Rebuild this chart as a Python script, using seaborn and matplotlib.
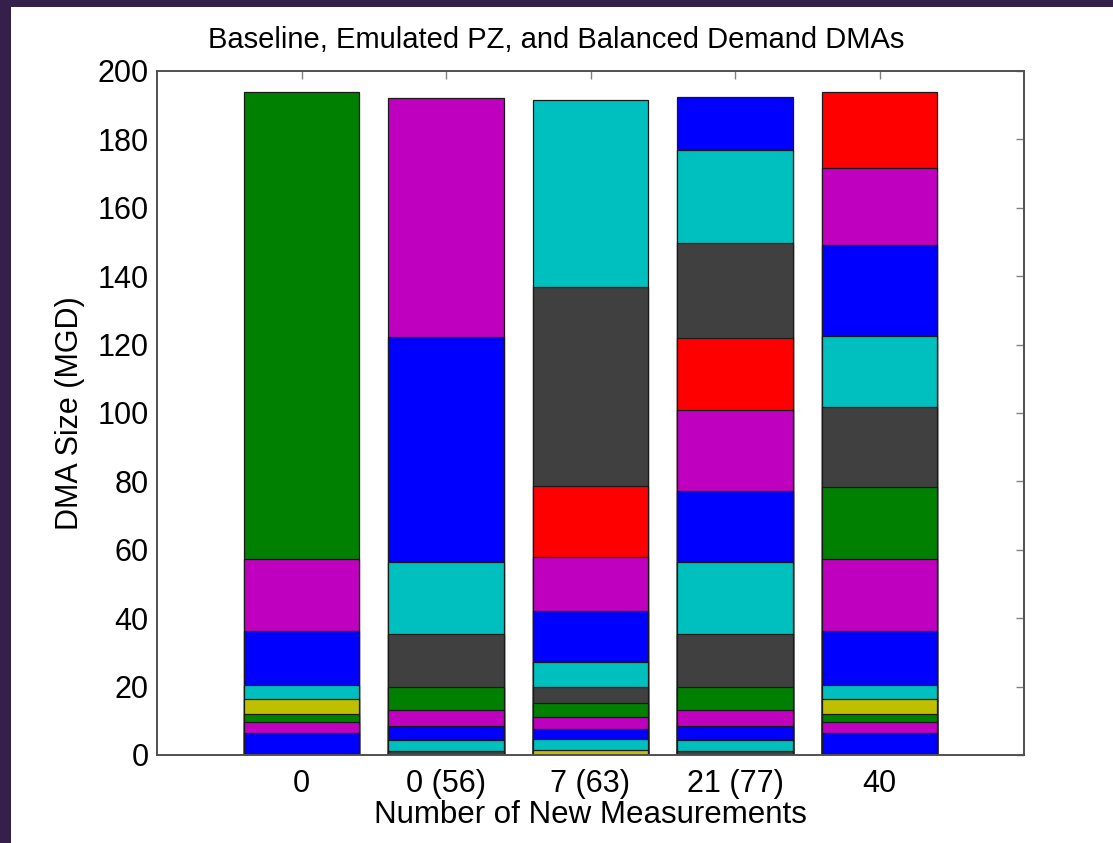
import matplotlib
matplotlib.use("Agg")
import matplotlib.pyplot as plt
import seaborn as sns
import numpy as np
import pandas as pd
from matplotlib.patches import Rectangle

# ---------------- data ----------------
categories = ["0", "0 (56)", "7 (63)", "21 (77)", "40"]

# segment sizes (MGD), bottom to top, and the colour key of each segment
baseline_sizes = [6.5, 3.2, 2.2, 4.5, 4.0, 15.8, 21.0, 136.8]
baseline_keys = ["B", "M", "G", "Y", "C", "B", "M", "G"]

pz56_sizes = [1.3, 3.1, 4.2, 4.7, 6.5, 15.5, 21.1, 65.7, 70.1]
pz56_keys = ["K", "C", "B", "M", "G", "K", "C", "B", "M"]

pz63_sizes = [1.5, 3.1, 3.0, 3.4, 4.1, 4.8, 7.2, 15.0, 15.8, 20.7, 58.1, 54.8]
pz63_keys = ["Y", "C", "B", "M", "G", "K", "C", "B", "M", "R", "K", "C"]

pz77_sizes = [1.3, 3.1, 4.2, 4.7, 6.5, 15.5, 21.1, 20.8, 23.7, 21.0, 27.8, 27.2, 15.5]
pz77_keys = ["K", "C", "B", "M", "G", "K", "C", "B", "M", "R", "K", "C", "B"]

balanced_sizes = [6.5, 3.2, 2.2, 4.5, 4.0, 15.8, 21.0, 21.3, 23.4, 20.5, 26.7, 22.5, 22.4]
balanced_keys = ["B", "M", "G", "Y", "C", "B", "M", "G", "K", "C", "B", "M", "R"]

all_sizes = [baseline_sizes, pz56_sizes, pz63_sizes, pz77_sizes, balanced_sizes]
all_keys = [baseline_keys, pz56_keys, pz63_keys, pz77_keys, balanced_keys]

# ---------------- styles ----------------
colour_of = {
    "G": "#008000",
    "M": "#bf00bf",
    "B": "#0000ff",
    "C": "#00bfbf",
    "Y": "#bfbf00",
    "K": "#404040",
    "R": "#ff0000",
}

sns.set_theme(style="white")
plt.rcParams["font.family"] = ["Liberation Sans", "DejaVu Sans"]

W, H = 1113, 843
fig = plt.figure(figsize=(W / 100, H / 100), dpi=100, facecolor="#34204a")
fig.patches.append(Rectangle((11 / W, 0), 1, (H - 7) / H, transform=fig.transFigure,
                             facecolor="white", edgecolor="none", zorder=-10))

ax = fig.add_axes([157 / W, 88 / H, 867 / W, 684 / H])
ax.set_facecolor("white")
ax.set_zorder(5)

# build a long table of stacked segments
rows = []
for cat, sizes, keys in zip(categories, all_sizes, all_keys):
    tops = np.cumsum(sizes)
    for j, (top, key) in enumerate(zip(tops, keys)):
        rows.append({"measurements": cat, "level": j, "top": top, "key": key})
segs = pd.DataFrame(rows)

# draw tallest first so each shorter bar paints its own segment on top
for _, r in segs.sort_values("top", ascending=False).iterrows():
    sns.barplot(x=[r["measurements"]], y=[r["top"]], order=categories,
                color=colour_of[r["key"]], saturation=1, width=0.8,
                edgecolor="#1a1a1a", linewidth=0.9, ax=ax)

ax.set_xlim(-1, 5)
ax.set_ylim(0, 200)
ax.set_yticks(np.arange(0, 201, 20))

for s in ax.spines.values():
    s.set_visible(True)
    s.set_color("#505050")
    s.set_linewidth(1.4)

ax.tick_params(axis="both", direction="in", length=6, width=1.0, color="#808080",
               top=True, right=True, labelsize=22, labelcolor="black")
ax.tick_params(axis="x", pad=10)
ax.tick_params(axis="y", pad=6)

ax.set_xlabel("Number of New Measurements", fontsize=22.5, color="black")
ax.set_ylabel("DMA Size (MGD)", fontsize=22, color="black")
ax.xaxis.set_label_coords(0.5, -0.066)
ax.yaxis.set_label_coords(-0.083, 0.5)

fig.text(556 / W, (H - 40) / H, "Baseline, Emulated PZ, and Balanced Demand DMAs",
         ha="center", va="center", fontsize=21, color="black")

fig.savefig("out.png", dpi=100, facecolor=fig.get_facecolor())
